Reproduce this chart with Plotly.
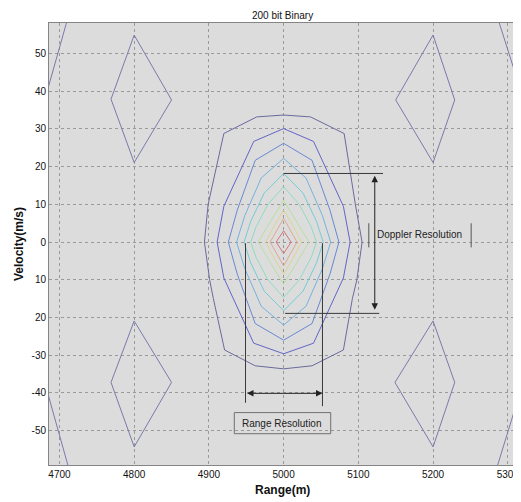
import plotly.graph_objects as go

# ---- data ----
title_text = "200 bit Binary"
x_ticks = [4700, 4800, 4900, 5000, 5100, 5200, 5300]
x_ticklabels = ["4700", "4800", "4900", "5000", "5100", "5200", "5300"]
y_ticks = [-50, -40, -30, -20, -10, 0, 10, 20, 30, 40, 50]
y_ticklabels = ["-50", "-40", "-30", "20", "10", "0", "10", "20", "30", "40", "50"]

# main-lobe contour levels (outer -> inner): range (m) and velocity (m/s) vertices
c1_x = [5000, 5036, 5081, 5096, 5105, 5098, 5092, 5080, 5038, 5000, 4962, 4921, 4906, 4901, 4894, 4899, 4920, 4964, 5000]
c1_y = [33.7, 33.2, 28.8, 10, 0, -10, -15, -28.6, -32.8, -33.6, -32.8, -28.6, -15, -10, 0, 10, 28.8, 33.2, 33.7]
c2_x = [5000, 5040, 5080, 5089, 5080, 5040, 5000, 4960, 4920, 4911, 4920, 4960, 5000]
c2_y = [30.1, 26.7, 9.5, 0, -9.5, -26.8, -29.6, -26.8, -9.5, 0, 9.5, 26.7, 30.1]
c3_x = [5000, 5038, 5062, 5074, 5062, 5038, 5000, 4962, 4938, 4926, 4938, 4962, 5000]
c3_y = [26.2, 21.7, 8.5, 0, -8.5, -21.6, -26.0, -21.6, -8.5, 0, 8.5, 21.7, 26.2]
c4_x = [5000, 5030, 5052, 5063, 5052, 5030, 5000, 4970, 4948, 4937, 4948, 4970, 5000]
c4_y = [22.2, 17.0, 7.0, 0, -7.0, -17.0, -22.0, -17.0, -7.0, 0, 7.0, 17.0, 22.2]
c5_x = [5000, 5026, 5044, 5053, 5044, 5026, 5000, 4974, 4956, 4947, 4956, 4974, 5000]
c5_y = [18.2, 13.0, 5.5, 0, -5.5, -13.0, -18.2, -13.0, -5.5, 0, 5.5, 13.0, 18.2]
c6_x = [5000, 5021, 5037, 5044, 5037, 5021, 5000, 4979, 4963, 4956, 4963, 4979, 5000]
c6_y = [14.7, 10.0, 4.0, 0, -4.0, -10.0, -14.7, -10.0, -4.0, 0, 4.0, 10.0, 14.7]
c7_x = [5000, 5016, 5034, 5016, 5000, 4984, 4966, 4984, 5000]
c7_y = [11.1, 6.0, 0, -6.0, -11.1, -6.0, 0, 6.0, 11.1]
c8_x = [5000, 5012, 5024, 5012, 5000, 4988, 4976, 4988, 5000]
c8_y = [8.5, 4.5, 0, -4.5, -8.5, -4.5, 0, 4.5, 8.5]
c9_x = [5000, 5018, 5000, 4982, 5000]
c9_y = [6.3, 0, -6.3, 0, 6.3]
c10_x = [5000, 5010, 5000, 4990, 5000]
c10_y = [3.0, 0, -3.0, 0, 3.0]

# side-lobe diamonds
d1_x = [4800, 4850, 4800, 4769, 4800]
d1_y = [54.9, 37.7, 21.1, 37.9, 54.9]
d2_x = [4800, 4850, 4800, 4769, 4800]
d2_y = [-20.9, -37.2, -54.3, -37.2, -20.9]
d3_x = [5200, 5229, 5200, 5150, 5200]
d3_y = [54.9, 37.7, 21.1, 37.7, 54.9]
d4_x = [5200, 5229, 5200, 5149, 5200]
d4_y = [-20.9, -37.2, -54.3, -37.2, -20.9]

# partial side lobes at the corners
e1_x = [4722, 4680]
e1_y = [67.0, 37.5]
e2_x = [4680, 4716]
e2_y = [-37.0, -62.5]
e3_x = [5284, 5320]
e3_y = [61.0, 38.5]
e4_x = [5320, 5282]
e4_y = [-37.5, -62.0]

contours = [
    (c1_x, c1_y, "#6a6a9e"),
    (c2_x, c2_y, "#6464c8"),
    (c3_x, c3_y, "#6888d4"),
    (c4_x, c4_y, "#74b2e0"),
    (c5_x, c5_y, "#74ccd6"),
    (c6_x, c6_y, "#8edcc0"),
    (c7_x, c7_y, "#b8e0a2"),
    (c8_x, c8_y, "#dcd68e"),
    (c9_x, c9_y, "#e2a88e"),
    (c10_x, c10_y, "#d87474"),
]
side = [(d1_x, d1_y), (d2_x, d2_y), (d3_x, d3_y), (d4_x, d4_y),
        (e1_x, e1_y), (e2_x, e2_y), (e3_x, e3_y), (e4_x, e4_y)]

fig = go.Figure()
for xs, ys in side:
    fig.add_trace(go.Scatter(x=xs, y=ys, mode="lines",
                             line=dict(color="#7a7aac", width=1),
                             hoverinfo="skip", showlegend=False))
for xs, ys, col in contours:
    fig.add_trace(go.Scatter(x=xs, y=ys, mode="lines",
                             line=dict(color=col, width=1),
                             hoverinfo="skip", showlegend=False))

dark = "#3a3a3a"
shapes = [
    # Doppler resolution guide lines
    dict(type="line", x0=5000, x1=5133, y0=18.2, y1=18.2, line=dict(color=dark, width=1)),
    dict(type="line", x0=5002, x1=5128, y0=-18.9, y1=-18.9, line=dict(color=dark, width=1)),
    dict(type="line", x0=5114, x1=5114, y0=-1.4, y1=5.0, line=dict(color="#555555", width=1)),
    dict(type="line", x0=5251, x1=5251, y0=-1.4, y1=5.0, line=dict(color="#555555", width=1)),
    # Range resolution guide lines
    dict(type="line", x0=4949, x1=4949, y0=-0.3, y1=-42.6, line=dict(color=dark, width=1)),
    dict(type="line", x0=5052, x1=5052, y0=-0.3, y1=-43.5, line=dict(color=dark, width=1)),
    dict(type="rect", x0=4934, x1=5063, y0=-50.8, y1=-45.2, line=dict(color="#707070", width=1)),
]

annotations = [
    # Doppler double arrow
    dict(x=5122, y=17.6, ax=5122, ay=-18.3, xref="x", yref="y", axref="x", ayref="y",
         text="", showarrow=True, arrowhead=2, startarrowhead=2, arrowside="end+start",
         arrowsize=1.3, startarrowsize=1.3, arrowwidth=1, arrowcolor="#222222"),
    # Range double arrow
    dict(x=5052, y=-40.1, ax=4949, ay=-40.1, xref="x", yref="y", axref="x", ayref="y",
         text="", showarrow=True, arrowhead=2, startarrowhead=2, arrowside="end+start",
         arrowsize=1.3, startarrowsize=1.3, arrowwidth=1, arrowcolor="#222222"),
    dict(x=5182, y=1.9, xref="x", yref="y", text="Doppler Resolution", showarrow=False,
         font=dict(size=10, color="#222222", family="Liberation Sans, Arial")),
    dict(x=4998, y=-48.0, xref="x", yref="y", text="Range Resolution", showarrow=False,
         font=dict(size=10, color="#222222", family="Liberation Sans, Arial")),
    # title and axis titles
    dict(x=0.5, y=1, xref="paper", yref="paper", xanchor="center", yanchor="bottom",
         yshift=0, text=title_text, showarrow=False,
         font=dict(size=10, color="#111111", family="Liberation Sans, Arial")),
    dict(x=0.5, y=0, xref="paper", yref="paper", xanchor="center", yanchor="top",
         yshift=-16, text="<b>Range(m)</b>", showarrow=False,
         font=dict(size=12, color="#111111", family="Liberation Sans, Arial")),
    dict(x=0, y=0.5, xref="paper", yref="paper", xanchor="center", yanchor="middle",
         xshift=-30, textangle=-90, text="<b>Velocity(m/s)</b>", showarrow=False,
         font=dict(size=12, color="#111111", family="Liberation Sans, Arial")),
]

axis_common = dict(showgrid=True, gridcolor="#9a9a9a", griddash="dot", gridwidth=1,
                   zeroline=False, showline=True, linecolor="#858585", linewidth=1,
                   mirror=True, ticks="", ticklabeloverflow="allow",
                   tickfont=dict(size=10, color="#111111", family="Liberation Sans, Arial"))

# the page adds an 8 px body margin, so the figure is sized/offset to compensate
fig.update_layout(
    width=513, height=494,
    margin=dict(l=41, r=2, t=15, b=37),
    paper_bgcolor="white",
    plot_bgcolor="#dcdcdc",
    showlegend=False,
    shapes=shapes,
    annotations=annotations,
    xaxis=dict(range=[4686, 5311], tickvals=x_ticks, ticktext=x_ticklabels, **axis_common),
    yaxis=dict(range=[-59.1, 58.1], tickvals=y_ticks, ticktext=y_ticklabels, **axis_common),
)

fig.write_html("out.html")
